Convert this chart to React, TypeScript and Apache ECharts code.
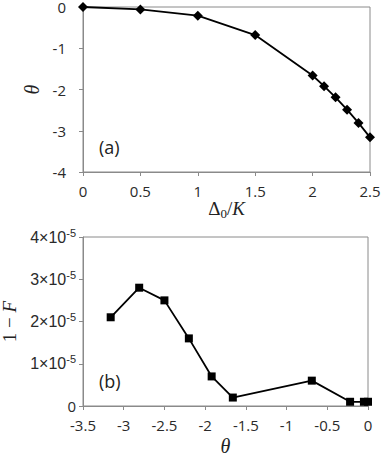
import React, { useEffect, useRef } from "react";
import * as echarts from "echarts";

const deltaOverK = [0, 0.5, 1, 1.5, 2, 2.1, 2.2, 2.3, 2.4, 2.5];
const thetaValues = [0, -0.06, -0.21, -0.68, -1.66, -1.92, -2.19, -2.49, -2.81, -3.16];
const thetaB = [-3.16, -2.81, -2.5, -2.2, -1.92, -1.66, -0.69, -0.22, -0.05, 0];
const infidelity = [2.1e-5, 2.8e-5, 2.5e-5, 1.6e-5, 0.7e-5, 0.2e-5, 0.6e-5, 0.1e-5, 0.1e-5, 0.1e-5];

const axisColor = "#8a8a8a";
const labelColor = "#2a2a2a";
const sansFont = "Open Sans";
const arialFont = "Liberation Sans";
const serifFont = "Liberation Serif";

export default function App() {
  const ref = useRef<HTMLDivElement>(null);
  useEffect(() => {
    if (!ref.current) return;
    const chart = echarts.init(ref.current, undefined, { renderer: "svg" });
    const axisLabel = { color: labelColor, fontFamily: sansFont, fontSize: 15 };
    const baseAxis = {
      axisLine: { show: true, onZero: false, lineStyle: { color: axisColor, width: 1 } },
      axisTick: { show: true, inside: false, length: 4, lineStyle: { color: axisColor } },
      splitLine: { show: false },
    };
    chart.setOption({
      animation: false,
      backgroundColor: "#fff",
      grid: [
        { left: 83, top: 7, right: 12, height: 165, show: true, borderColor: axisColor, borderWidth: 1, backgroundColor: "transparent", outerBoundsMode: "none", containLabel: false },
        { left: 83, top: 237, right: 14, height: 169, show: true, borderColor: axisColor, borderWidth: 1, backgroundColor: "transparent", outerBoundsMode: "none", containLabel: false },
      ],
      xAxis: [
        {
          ...baseAxis,
          type: "value", gridIndex: 0, min: 0, max: 2.5, interval: 0.5,
          axisLabel: { ...axisLabel, margin: 11 },
          name: "{d|Δ}{s|0}{d|/}{k|K}",
          nameLocation: "middle",
          nameGap: 25,
          nameTextStyle: {
            rich: {
              d: { fontFamily: serifFont, fontSize: 19, color: "#222" },
              s: { fontFamily: serifFont, fontSize: 13, color: "#222", padding: [10, 0, 0, 0] },
              k: { fontFamily: serifFont, fontSize: 19, fontStyle: "italic", color: "#222" },
            },
          },
        },
        {
          ...baseAxis,
          type: "value", gridIndex: 1, min: -3.5, max: 0, interval: 0.5,
          axisLabel: { ...axisLabel, margin: 11 },
          name: "θ",
          nameLocation: "middle",
          nameGap: 30,
          nameTextStyle: { fontFamily: serifFont, fontSize: 20, fontStyle: "italic", color: "#222" },
        },
      ],
      yAxis: [
        {
          ...baseAxis,
          type: "value", gridIndex: 0, min: -4, max: 0, interval: 1,
          axisLabel: { ...axisLabel, margin: 17 },
          name: "θ",
          nameLocation: "middle",
          nameGap: 35,
          nameRotate: 90,
          nameTextStyle: { fontFamily: serifFont, fontSize: 20, fontStyle: "italic", color: "#222" },
        },
        {
          ...baseAxis,
          type: "value", gridIndex: 1, min: 0, max: 4e-5, interval: 1e-5,
          axisLabel: {
            color: labelColor,
            margin: 7,
            formatter: (v: number) => {
              const n = Math.round(v * 1e5);
              return n === 0 ? "{z|0}" : `{m|${n}×10}{s|-5}`;
            },
            rich: {
              z: { fontFamily: sansFont, fontSize: 15, color: labelColor, lineHeight: 20 },
              m: { fontFamily: arialFont, fontSize: 16, color: labelColor, lineHeight: 20 },
              s: { fontFamily: arialFont, fontSize: 11, color: labelColor, lineHeight: 20, padding: [0, 0, 9, 0] },
            },
          },
          name: "{n|1 − }{f|F}",
          nameLocation: "middle",
          nameGap: 64,
          nameRotate: 90,
          nameTextStyle: {
            rich: {
              n: { fontFamily: serifFont, fontSize: 19, color: "#222" },
              f: { fontFamily: serifFont, fontSize: 19, fontStyle: "italic", color: "#222" },
            },
          },
        },
      ],
      graphic: [
        { type: "text", left: 99, top: 138, style: { text: "(a)", font: `18px "${sansFont}"`, fill: "#222" } },
        { type: "text", left: 99, top: 372, style: { text: "(b)", font: `18px "${sansFont}"`, fill: "#222" } },
      ],
      series: [
        {
          type: "line", xAxisIndex: 0, yAxisIndex: 0,
          data: deltaOverK.map((x, i) => [x, thetaValues[i]]),
          symbol: "diamond", symbolSize: 10,
          lineStyle: { color: "#000", width: 1.8 },
          itemStyle: { color: "#000" },
          clip: false,
        },
        {
          type: "line", xAxisIndex: 1, yAxisIndex: 1,
          data: thetaB.map((x, i) => [x, infidelity[i]]),
          symbol: "rect", symbolSize: 8,
          lineStyle: { color: "#000", width: 1.8 },
          itemStyle: { color: "#000" },
          clip: false,
        },
      ],
    });
    return () => chart.dispose();
  }, []);
  return <div ref={ref} style={{ width: 382, height: 456, position: "absolute", left: 0, top: 0 }} />;
}
